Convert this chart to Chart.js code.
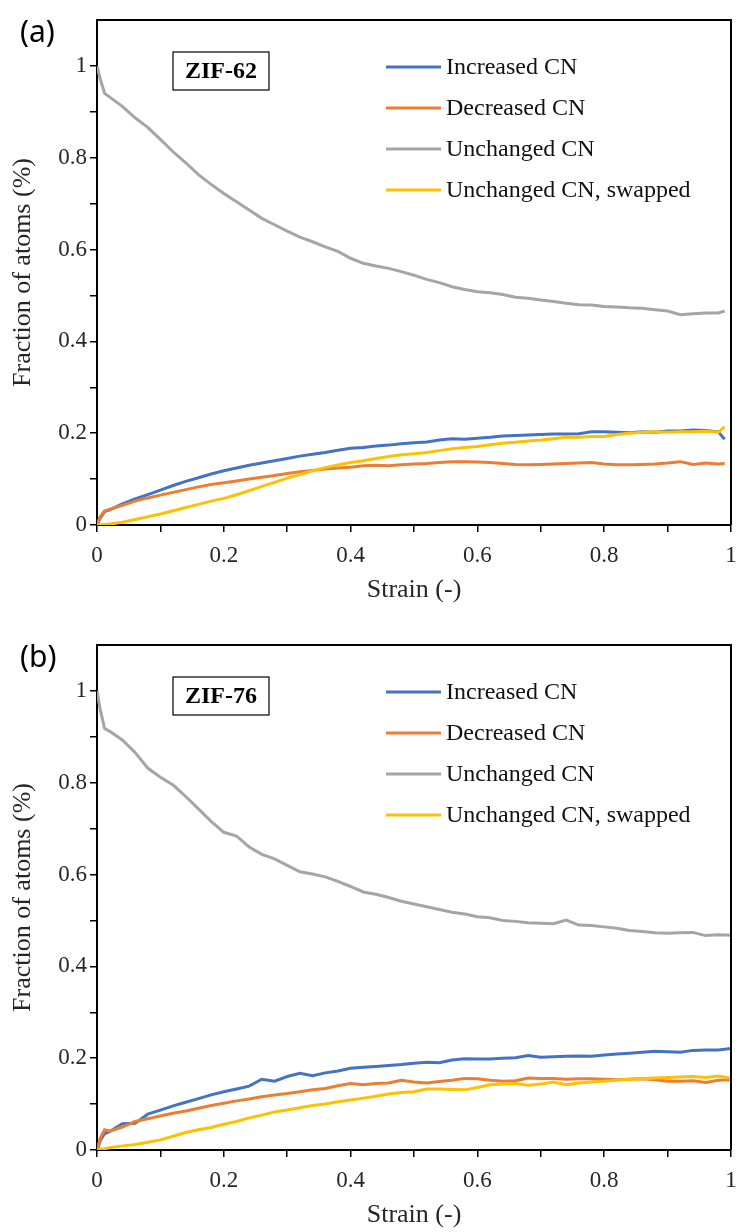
<!DOCTYPE html>
<html>
<head>
<meta charset="utf-8">
<title>Fraction of atoms vs strain</title>
<script src="https://cdn.jsdelivr.net/npm/chart.js@4"></script>
<style>
  body { margin: 0; background: #fff; }
  .panel { position: absolute; left: 0; width: 738px; height: 607px; }
  #panelA { top: 0; }
  #panelB { top: 625px; }
</style>
</head>
<body>
<div class="panel" id="panelA"><canvas id="chartA" width="738" height="607"></canvas></div>
<div class="panel" id="panelB"><canvas id="chartB" width="738" height="607"></canvas></div>
<script>
const seriesNames = ['Increased CN', 'Decreased CN', 'Unchanged CN', 'Unchanged CN, swapped'];
const majorTicks = [0, 0.2, 0.4, 0.6, 0.8, 1];
const majorLabels = ['0', '0.2', '0.4', '0.6', '0.8', '1'];

// (a) ZIF-62
const strainA = [0, 0.005, 0.012, 0.02, 0.04, 0.06, 0.08, 0.10, 0.12, 0.14,
  0.16, 0.18, 0.20, 0.22, 0.24, 0.26, 0.28, 0.30, 0.32, 0.34,
  0.36, 0.38, 0.40, 0.42, 0.44, 0.46, 0.48, 0.50, 0.52, 0.54,
  0.56, 0.58, 0.60, 0.62, 0.64, 0.66, 0.68, 0.70, 0.72, 0.74,
  0.76, 0.78, 0.80, 0.82, 0.84, 0.86, 0.88, 0.90, 0.92, 0.94,
  0.96, 0.98, 0.99];
const incA = [0, 0.015, 0.029, 0.033, 0.046, 0.057, 0.066, 0.076, 0.086, 0.095,
  0.103, 0.111, 0.118, 0.124, 0.130, 0.135, 0.140, 0.145, 0.150, 0.154,
  0.158, 0.163, 0.167, 0.169, 0.172, 0.174, 0.177, 0.179, 0.181, 0.185,
  0.188, 0.187, 0.189, 0.191, 0.194, 0.195, 0.196, 0.197, 0.198, 0.198,
  0.199, 0.203, 0.203, 0.202, 0.201, 0.203, 0.202, 0.205, 0.205, 0.207,
  0.206, 0.203, 0.187];
const decA = [0, 0.018, 0.031, 0.034, 0.043, 0.052, 0.059, 0.065, 0.071, 0.077,
  0.083, 0.088, 0.092, 0.096, 0.100, 0.104, 0.108, 0.112, 0.116, 0.119,
  0.122, 0.124, 0.126, 0.129, 0.130, 0.129, 0.131, 0.133, 0.134, 0.136,
  0.138, 0.138, 0.137, 0.136, 0.134, 0.132, 0.131, 0.132, 0.133, 0.134,
  0.135, 0.136, 0.133, 0.131, 0.131, 0.132, 0.133, 0.135, 0.138, 0.132,
  0.135, 0.133, 0.134];
const uncA = [1.0, 0.972, 0.940, 0.932, 0.912, 0.887, 0.866, 0.840, 0.813, 0.789,
  0.763, 0.742, 0.722, 0.704, 0.686, 0.668, 0.654, 0.640, 0.627, 0.617,
  0.606, 0.596, 0.581, 0.570, 0.564, 0.559, 0.552, 0.544, 0.535, 0.528,
  0.519, 0.513, 0.508, 0.506, 0.502, 0.496, 0.494, 0.490, 0.487, 0.483,
  0.480, 0.479, 0.476, 0.475, 0.473, 0.472, 0.469, 0.466, 0.458, 0.460,
  0.462, 0.462, 0.466];
const swpA = [0, 0, 0.001, 0.002, 0.006, 0.012, 0.018, 0.024, 0.031, 0.038,
  0.045, 0.052, 0.058, 0.066, 0.075, 0.084, 0.093, 0.102, 0.110, 0.118,
  0.125, 0.131, 0.136, 0.140, 0.145, 0.149, 0.153, 0.155, 0.158, 0.162,
  0.166, 0.169, 0.171, 0.175, 0.178, 0.180, 0.183, 0.185, 0.188, 0.191,
  0.191, 0.193, 0.193, 0.197, 0.200, 0.202, 0.203, 0.202, 0.203, 0.203,
  0.204, 0.202, 0.214];

// (b) ZIF-76
const strainB = [0, 0.005, 0.012, 0.02, 0.04, 0.06, 0.08, 0.10, 0.12, 0.14,
  0.16, 0.18, 0.20, 0.22, 0.24, 0.26, 0.28, 0.30, 0.32, 0.34,
  0.36, 0.38, 0.40, 0.42, 0.44, 0.46, 0.48, 0.50, 0.52, 0.54,
  0.56, 0.58, 0.60, 0.62, 0.64, 0.66, 0.68, 0.70, 0.72, 0.74,
  0.76, 0.78, 0.80, 0.82, 0.84, 0.86, 0.88, 0.90, 0.92, 0.94,
  0.96, 0.98, 1.0];
const incB = [0, 0.020, 0.036, 0.040, 0.057, 0.058, 0.078, 0.087, 0.096, 0.104,
  0.112, 0.120, 0.127, 0.133, 0.139, 0.154, 0.150, 0.160, 0.167, 0.162,
  0.168, 0.172, 0.178, 0.180, 0.182, 0.184, 0.186, 0.189, 0.191, 0.190,
  0.196, 0.199, 0.198, 0.198, 0.200, 0.201, 0.206, 0.202, 0.203, 0.204,
  0.205, 0.204, 0.207, 0.209, 0.211, 0.213, 0.215, 0.214, 0.213, 0.217,
  0.218, 0.218, 0.221];
const decB = [0, 0.025, 0.044, 0.041, 0.050, 0.062, 0.068, 0.074, 0.080, 0.085,
  0.091, 0.097, 0.102, 0.107, 0.111, 0.116, 0.120, 0.123, 0.127, 0.131,
  0.134, 0.140, 0.145, 0.142, 0.145, 0.146, 0.152, 0.148, 0.146, 0.149,
  0.152, 0.156, 0.155, 0.152, 0.150, 0.151, 0.157, 0.156, 0.156, 0.154,
  0.155, 0.155, 0.154, 0.153, 0.154, 0.155, 0.153, 0.150, 0.150, 0.151,
  0.147, 0.152, 0.153];
const uncB = [1.0, 0.960, 0.918, 0.912, 0.893, 0.866, 0.832, 0.812, 0.795, 0.770,
  0.743, 0.716, 0.692, 0.684, 0.660, 0.644, 0.634, 0.620, 0.606, 0.601,
  0.595, 0.585, 0.574, 0.562, 0.557, 0.550, 0.542, 0.536, 0.530, 0.524,
  0.518, 0.514, 0.508, 0.506, 0.500, 0.498, 0.495, 0.494, 0.493, 0.501,
  0.490, 0.489, 0.486, 0.483, 0.478, 0.476, 0.473, 0.472, 0.473, 0.474,
  0.467, 0.469, 0.468];
const swpB = [0, 0.002, 0.003, 0.005, 0.009, 0.012, 0.017, 0.022, 0.030, 0.038,
  0.044, 0.049, 0.056, 0.062, 0.070, 0.076, 0.083, 0.087, 0.092, 0.097,
  0.100, 0.105, 0.109, 0.113, 0.117, 0.122, 0.125, 0.127, 0.133, 0.133,
  0.132, 0.131, 0.136, 0.142, 0.144, 0.145, 0.141, 0.144, 0.148, 0.142,
  0.146, 0.148, 0.150, 0.152, 0.154, 0.155, 0.157, 0.158, 0.159, 0.160,
  0.158, 0.161, 0.156];

const colors = ['#4472C4', '#ED7D31', '#A5A5A5', '#FFC000'];
const serif = 'Liberation Serif';

function toPoints(xs, ys) {
  return xs.map((x, i) => ({ x: x, y: ys[i] }));
}

function tickLabel(v) {
  const i = majorTicks.findIndex(t => Math.abs(t - v) < 1e-6);
  return i < 0 ? '' : majorLabels[i];
}

// frame, panel letter, sample tag and in-plot legend
const decor = {
  id: 'decor',
  afterDraw(chart, args, opts) {
    const ctx = chart.ctx;
    const a = chart.chartArea;
    ctx.save();
    ctx.strokeStyle = '#000';
    ctx.lineWidth = 2;
    ctx.beginPath();
    ctx.moveTo(a.left, a.top);
    ctx.lineTo(a.right, a.top);
    ctx.lineTo(a.right, a.bottom);
    ctx.stroke();

    ctx.fillStyle = '#000';
    ctx.textBaseline = 'middle';
    ctx.textAlign = 'left';
    ctx.font = '30px "Noto Sans"';
    ctx.fillText(opts.letter, 20, 33);

    const bx = a.left + 76, by = a.top + 32, bw = 96, bh = 38;
    ctx.lineWidth = 1.2;
    ctx.strokeRect(bx, by, bw, bh);
    ctx.textAlign = 'center';
    ctx.font = 'bold 24px "' + serif + '"';
    ctx.fillText(opts.tag, bx + bw / 2, by + bh / 2 + 1);

    ctx.textAlign = 'left';
    ctx.font = '24px "' + serif + '"';
    chart.data.datasets.forEach((ds, i) => {
      const y = a.top + 47 + i * 41;
      ctx.strokeStyle = ds.borderColor;
      ctx.lineWidth = 3;
      ctx.beginPath();
      ctx.moveTo(a.left + 289, y);
      ctx.lineTo(a.left + 344, y);
      ctx.stroke();
      ctx.fillStyle = '#111';
      ctx.fillText(ds.label, a.left + 349, y + 1);
    });
    ctx.restore();
  }
};

function makePanel(id, xs, seriesList, letter, tag) {
  const datasets = seriesList.map((ys, i) => ({
    label: seriesNames[i],
    data: toPoints(xs, ys),
    showLine: true,
    borderColor: colors[i],
    backgroundColor: colors[i],
    borderWidth: 3,
    pointRadius: 0,
    fill: false,
    tension: 0,
    order: seriesList.length - i
  }));

  const tickFont = { family: serif, size: 23 };
  const titleFont = { family: serif, size: 26 };
  const gridOpts = {
    drawOnChartArea: false, drawTicks: true, tickLength: 7, lineWidth: 1.5,
    color: c => (c.tick && c.tick.value > 1.05 ? 'rgba(0,0,0,0)' : '#000')
  };
  const borderOpts = { display: true, color: '#000', width: 2 };

  return new Chart(document.getElementById(id), {
    type: 'scatter',
    data: { datasets: datasets },
    options: {
      responsive: false,
      animation: false,
      events: [],
      layout: { padding: { top: 20, right: 7, left: 0, bottom: 0 } },
      plugins: {
        legend: { display: false },
        tooltip: { enabled: false },
        decor: { letter: letter, tag: tag }
      },
      scales: {
        x: {
          type: 'linear',
          min: 0,
          max: 1,
          afterFit(s) { s.height = 82; s.paddingLeft = 0; s.paddingRight = 0; },
          ticks: { stepSize: 0.1, autoSkip: false, maxRotation: 0, padding: 10, color: '#262626', font: tickFont, callback: tickLabel },
          grid: gridOpts,
          border: borderOpts,
          title: { display: true, text: 'Strain (-)', color: '#262626', font: titleFont, padding: { top: 0, bottom: 1 } }
        },
        y: {
          type: 'linear',
          min: 0,
          max: 1.1,
          afterFit(s) { s.width = 97; s.paddingTop = 0; s.paddingBottom = 0; },
          ticks: { stepSize: 0.1, autoSkip: false, padding: 3, color: '#262626', font: tickFont, callback: tickLabel },
          grid: gridOpts,
          border: borderOpts,
          title: { display: true, text: 'Fraction of atoms (%)', color: '#262626', font: titleFont, padding: { top: 8, bottom: 0 } }
        }
      }
    },
    plugins: [decor]
  });
}

makePanel('chartA', strainA, [incA, decA, uncA, swpA], '(a)', 'ZIF-62');
makePanel('chartB', strainB, [incB, decB, uncB, swpB], '(b)', 'ZIF-76');
</script>
</body>
</html>
